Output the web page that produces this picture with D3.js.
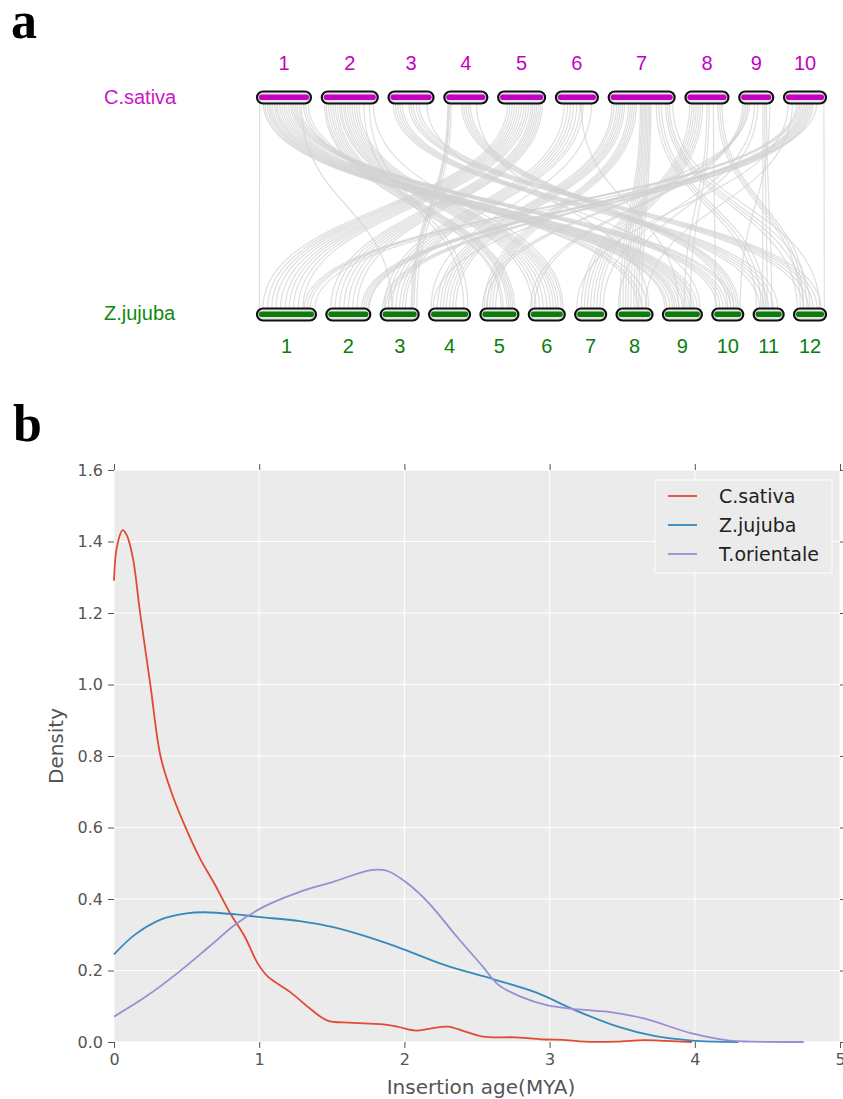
<!DOCTYPE html>
<html>
<head>
<meta charset="utf-8">
<script src="https://cdn.jsdelivr.net/npm/d3@7"></script>
<style>
  body { margin: 0; background: #fff; }
  svg { display: block; }
</style>
</head>
<body>
<svg id="chart" width="843" height="1099"></svg>
<script>
// ---- panel a data ----
const topSpecies = 'C.sativa';
const botSpecies = 'Z.jujuba';
const topChrNames = ['1', '2', '3', '4', '5', '6', '7', '8', '9', '10'];
const topChrLengths = [54, 56, 45, 43, 47, 42, 66, 43, 34, 42];
const botChrNames = ['1', '2', '3', '4', '5', '6', '7', '8', '9', '10', '11', '12'];
const botChrLengths = [59, 44, 38, 41, 38, 36, 31, 36, 39, 31, 30, 32];

// syntenic links: [top chr, position on top chr (0-1), bottom chr, position on bottom chr (0-1)]
const links = [
  [1, 0.05, 1, 0.04],
  [1, 0.12, 9, 0.05], [1, 0.15, 9, 0.10], [1, 0.19, 9, 0.18], [1, 0.22, 9, 0.25], [1, 0.25, 9, 0.3],
  [1, 0.28, 9, 0.35], [1, 0.32, 9, 0.42], [1, 0.35, 9, 0.5], [1, 0.38, 9, 0.55], [1, 0.42, 9, 0.62],
  [1, 0.46, 9, 0.68], [1, 0.5, 9, 0.75], [1, 0.54, 9, 0.8], [1, 0.58, 9, 0.88],
  [1, 0.62, 10, 0.15], [1, 0.65, 10, 0.25], [1, 0.68, 10, 0.35], [1, 0.71, 10, 0.45], [1, 0.74, 10, 0.6],
  [1, 0.78, 10, 0.7], [1, 0.82, 3, 0.3], [1, 0.86, 8, 0.6], [1, 0.9, 8, 0.7], [1, 0.95, 8, 0.85],
  [2, 0.05, 5, 0.55], [2, 0.08, 5, 0.6], [2, 0.12, 5, 0.7], [2, 0.16, 5, 0.75], [2, 0.2, 5, 0.8],
  [2, 0.24, 5, 0.85], [2, 0.28, 5, 0.9], [2, 0.32, 6, 0.1], [2, 0.35, 6, 0.2], [2, 0.39, 6, 0.3],
  [2, 0.42, 6, 0.4], [2, 0.46, 6, 0.5], [2, 0.5, 6, 0.6], [2, 0.54, 6, 0.68], [2, 0.58, 6, 0.75],
  [2, 0.62, 6, 0.82], [2, 0.66, 6, 0.9], [2, 0.75, 4, 0.85], [2, 0.85, 4, 0.95], [2, 0.92, 6, 0.95],
  [3, 0.1, 11, 0.2], [3, 0.15, 11, 0.35], [3, 0.2, 11, 0.5], [3, 0.25, 11, 0.65], [3, 0.3, 11, 0.8],
  [3, 0.45, 12, 0.3], [3, 0.5, 12, 0.45], [3, 0.55, 12, 0.6], [3, 0.62, 12, 0.72], [3, 0.68, 12, 0.85],
  [3, 0.85, 9, 0.95],
  [4, 0.08, 3, 0.8], [4, 0.1, 3, 0.84], [4, 0.12, 3, 0.88], [4, 0.16, 3, 0.95], [4, 0.4, 10, 0.5],
  [4, 0.45, 10, 0.6], [4, 0.5, 10, 0.7], [4, 0.55, 10, 0.78], [4, 0.6, 10, 0.85], [4, 0.75, 8, 0.9],
  [5, 0.2, 1, 0.1], [5, 0.25, 1, 0.18], [5, 0.3, 1, 0.25], [5, 0.35, 1, 0.32], [5, 0.4, 1, 0.4],
  [5, 0.45, 1, 0.48], [5, 0.5, 1, 0.55], [5, 0.55, 1, 0.62], [5, 0.6, 1, 0.7], [5, 0.65, 1, 0.78],
  [5, 0.7, 2, 0.1], [5, 0.74, 2, 0.2], [5, 0.78, 2, 0.3], [5, 0.82, 2, 0.4], [5, 0.86, 2, 0.5],
  [5, 0.9, 2, 0.6], [5, 0.94, 2, 0.7],
  [6, 0.2, 3, 0.1], [6, 0.28, 3, 0.2], [6, 0.35, 3, 0.3], [6, 0.42, 3, 0.4], [6, 0.5, 3, 0.5],
  [6, 0.58, 3, 0.58], [6, 0.65, 3, 0.65], [6, 0.6, 9, 0.4], [6, 0.85, 4, 0.05],
  [7, 0.05, 4, 0.2], [7, 0.08, 4, 0.28], [7, 0.12, 4, 0.35], [7, 0.15, 4, 0.42], [7, 0.18, 4, 0.5],
  [7, 0.21, 4, 0.58], [7, 0.24, 4, 0.65], [7, 0.3, 5, 0.1], [7, 0.33, 5, 0.18], [7, 0.36, 5, 0.25],
  [7, 0.39, 5, 0.32], [7, 0.42, 5, 0.4],
  [7, 0.48, 8, 0.1], [7, 0.5, 8, 0.18], [7, 0.52, 8, 0.25], [7, 0.54, 8, 0.32], [7, 0.56, 8, 0.4],
  [7, 0.58, 8, 0.48], [7, 0.6, 8, 0.55], [7, 0.62, 8, 0.62], [7, 0.64, 8, 0.7],
  [7, 0.72, 11, 0.1], [7, 0.76, 11, 0.25], [7, 0.8, 11, 0.4], [7, 0.86, 12, 0.1], [7, 0.89, 12, 0.3],
  [7, 0.92, 12, 0.5], [7, 0.97, 12, 0.8],
  [8, 0.1, 7, 0.2], [8, 0.15, 7, 0.3], [8, 0.2, 7, 0.4], [8, 0.25, 7, 0.5], [8, 0.3, 7, 0.6],
  [8, 0.35, 7, 0.7], [8, 0.4, 7, 0.8], [8, 0.5, 9, 0.55], [8, 0.55, 9, 0.7], [8, 0.65, 10, 0.1],
  [8, 0.75, 12, 0.2], [8, 0.8, 12, 0.3], [8, 0.85, 12, 0.4],
  [9, 0.1, 6, 0.05], [9, 0.15, 6, 0.15], [9, 0.2, 5, 0.05], [9, 0.25, 5, 0.15], [9, 0.3, 4, 0.1],
  [9, 0.45, 7, 0.9], [9, 0.55, 8, 0.05], [9, 0.7, 11, 0.3], [9, 0.75, 11, 0.45], [9, 0.8, 11, 0.6],
  [9, 0.9, 10, 0.9],
  [10, 0.1, 7, 0.05], [10, 0.2, 8, 0.8], [10, 0.3, 1, 0.8], [10, 0.34, 1, 0.85], [10, 0.38, 1, 0.9],
  [10, 0.42, 2, 0.8], [10, 0.46, 2, 0.85], [10, 0.5, 2, 0.9], [10, 0.54, 2, 0.95], [10, 0.58, 2, 0.98],
  [10, 0.62, 3, 0.05], [10, 0.66, 3, 0.12], [10, 0.7, 3, 0.2], [10, 0.78, 1, 0.98], [10, 0.95, 12, 0.95]
];

// ---- panel b data ----
const seriesNames = ['C.sativa', 'Z.jujuba', 'T.orientale'];
const seriesColors = ['#E24A33', '#348ABD', '#988ED5'];
const xTicks = [0, 1, 2, 3, 4, 5];
const yTicks = [0, 0.2, 0.4, 0.6, 0.8, 1.0, 1.2, 1.4, 1.6];

const sativaAge = [0, 0.02, 0.06, 0.09, 0.13, 0.18, 0.25, 0.32, 0.39, 0.48, 0.59, 0.69, 0.8, 0.9, 0.99,
  1.06, 1.21, 1.36, 1.47, 1.62, 1.84, 1.95, 2.08, 2.17, 2.3, 2.42, 2.54, 2.77, 2.98, 3.09, 3.24, 3.46,
  3.65, 3.8, 3.98];
const sativaDensity = [1.29, 1.385, 1.432, 1.416, 1.354, 1.2, 1.0, 0.8, 0.705, 0.612, 0.515, 0.444, 0.36,
  0.295, 0.22, 0.183, 0.141, 0.09, 0.06, 0.054, 0.05, 0.043, 0.032, 0.037, 0.043, 0.029, 0.015, 0.013,
  0.007, 0.006, 0.001, 0.001, 0.005, 0.003, 0.0];
const jujubaAge = [0, 0.14, 0.325, 0.5, 0.62, 0.84, 0.99, 1.28, 1.51, 1.8, 1.99, 2.28, 2.61, 2.91, 3.17,
  3.47, 3.72, 3.98, 4.13, 4.3];
const jujubaDensity = [0.245, 0.299, 0.343, 0.36, 0.363, 0.357, 0.35, 0.338, 0.321, 0.287, 0.26, 0.215,
  0.176, 0.138, 0.09, 0.043, 0.017, 0.004, 0.001, 0.0];
const orientaleAge = [0, 0.22, 0.435, 0.657, 0.84, 1.03, 1.28, 1.51, 1.77, 1.88, 2.02, 2.17, 2.36, 2.54,
  2.65, 2.8, 2.98, 3.2, 3.43, 3.65, 3.98, 4.24, 4.39, 4.75];
const orientaleDensity = [0.071, 0.127, 0.192, 0.267, 0.33, 0.378, 0.42, 0.448, 0.481, 0.479, 0.444,
  0.388, 0.295, 0.211, 0.159, 0.127, 0.103, 0.091, 0.083, 0.066, 0.024, 0.004, 0.001, 0.0];

const svg = d3.select('#chart');

// ================= panel a =================
const magenta = '#c400c4';
const green = '#0a7d0a';
const chrLeft = 257;
const chrRight = 826;
const chrH = 12;
const topY = 91.5;
const botY = 308.5;

function layoutChroms(lengths, gap) {
  const total = d3.sum(lengths);
  const k = (chrRight - chrLeft - gap * (lengths.length - 1)) / total;
  let pos = chrLeft;
  return lengths.map((len, i) => {
    const s = d3.scaleLinear().domain([0, 1]).range([pos, pos + len * k]);
    pos += len * k + gap;
    return { i, scale: s };
  });
}

const topChroms = layoutChroms(topChrLengths, 10.8);
const botChroms = layoutChroms(botChrLengths, 10.4);

const panelA = svg.append('g').attr('class', 'panelA');

const link = d3.linkVertical()
  .x((d) => d[0])
  .y((d) => d[1]);

panelA.append('g')
  .attr('class', 'links')
  .selectAll('path')
  .data(links)
  .enter()
  .append('path')
  .attr('d', (d) => link({
    source: [topChroms[d[0] - 1].scale(d[1]), topY + chrH],
    target: [botChroms[d[2] - 1].scale(d[3]), botY]
  }))
  .attr('fill', 'none')
  .attr('stroke', '#d2d2d2')
  .attr('stroke-opacity', 0.7)
  .attr('stroke-width', 1.2);

function drawChroms(chroms, y, color, names, labelY) {
  const g = panelA.append('g');
  const c = g.selectAll('g.chr').data(chroms).enter().append('g').attr('class', 'chr');
  c.append('rect')
    .attr('x', (d) => d.scale(0))
    .attr('y', y)
    .attr('width', (d) => d.scale(1) - d.scale(0))
    .attr('height', chrH)
    .attr('rx', chrH / 2)
    .attr('fill', '#e4e4e4')
    .attr('stroke', '#111')
    .attr('stroke-width', 2.2);
  c.append('rect')
    .attr('x', (d) => d.scale(0) + 2)
    .attr('y', y + 3)
    .attr('width', (d) => d.scale(1) - d.scale(0) - 4)
    .attr('height', 5.5)
    .attr('rx', 2.5)
    .attr('fill', color);
  c.append('text')
    .attr('x', (d) => (d.scale(0) + d.scale(1)) / 2)
    .attr('y', labelY)
    .attr('text-anchor', 'middle')
    .attr('font-family', 'Liberation Sans, Arial, sans-serif')
    .attr('font-size', 20)
    .attr('fill', color)
    .text((d) => names[d.i]);
}

drawChroms(topChroms, topY, magenta, topChrNames, 70);
drawChroms(botChroms, botY, green, botChrNames, 353);

panelA.append('text')
  .attr('x', 104).attr('y', 104)
  .attr('font-family', 'Liberation Sans, Arial, sans-serif')
  .attr('font-size', 20)
  .attr('fill', '#cc14cc')
  .text(topSpecies);

panelA.append('text')
  .attr('x', 104).attr('y', 320)
  .attr('font-family', 'Liberation Sans, Arial, sans-serif')
  .attr('font-size', 20)
  .attr('fill', '#118811')
  .text(botSpecies);

// panel letters
svg.append('text')
  .attr('x', 11).attr('y', 38)
  .attr('font-family', 'Liberation Serif, Times New Roman, serif')
  .attr('font-weight', 'bold')
  .attr('font-size', 52)
  .text('a');

svg.append('text')
  .attr('x', 13).attr('y', 441)
  .attr('font-family', 'Liberation Serif, Times New Roman, serif')
  .attr('font-weight', 'bold')
  .attr('font-size', 52)
  .text('b');

// ================= panel b =================
const plot = { left: 114, right: 840, top: 470, bottom: 1042 };
const x = d3.scaleLinear().domain([0, 5]).range([plot.left, plot.right]);
const y = d3.scaleLinear().domain([0, 1.6]).range([plot.bottom, plot.top]);

const panelB = svg.append('g').attr('class', 'panelB');
const tickColor = '#555';
const font = 'DejaVu Sans, Verdana, sans-serif';

panelB.append('rect')
  .attr('x', plot.left)
  .attr('y', plot.top)
  .attr('width', plot.right - plot.left)
  .attr('height', plot.bottom - plot.top)
  .attr('fill', '#ebebeb');

// grid
panelB.append('g')
  .selectAll('line')
  .data(xTicks)
  .enter()
  .append('line')
  .attr('x1', (d) => x(d)).attr('x2', (d) => x(d))
  .attr('y1', plot.top).attr('y2', plot.bottom)
  .attr('stroke', '#fff').attr('stroke-width', 1);

panelB.append('g')
  .selectAll('line')
  .data(yTicks)
  .enter()
  .append('line')
  .attr('x1', plot.left).attr('x2', plot.right)
  .attr('y1', (d) => y(d)).attr('y2', (d) => y(d))
  .attr('stroke', '#fff').attr('stroke-width', 1);

// axes
function styleAxis(g) {
  g.select('.domain').remove();
  g.selectAll('.tick line').attr('stroke', tickColor);
  g.selectAll('.tick text')
    .attr('fill', tickColor)
    .attr('font-family', font)
    .attr('font-size', 16);
}

panelB.append('g')
  .attr('transform', `translate(0,${plot.bottom})`)
  .call(d3.axisBottom(x).tickValues(xTicks).tickFormat(d3.format('d')).tickSize(6).tickPadding(6))
  .call(styleAxis);

panelB.append('g')
  .attr('transform', `translate(0,${plot.top})`)
  .call(d3.axisTop(x).tickValues(xTicks).tickFormat('').tickSize(6))
  .call(styleAxis);

panelB.append('g')
  .attr('transform', `translate(${plot.left},0)`)
  .call(d3.axisLeft(y).tickValues(yTicks).tickFormat(d3.format('.1f')).tickSize(6).tickPadding(5))
  .call(styleAxis);

panelB.append('g')
  .attr('transform', `translate(${plot.right},0)`)
  .call(d3.axisRight(y).tickValues(yTicks).tickFormat('').tickSize(6))
  .call(styleAxis);

// axis titles
panelB.append('text')
  .attr('x', (plot.left + plot.right) / 2 + 4)
  .attr('y', 1094)
  .attr('text-anchor', 'middle')
  .attr('font-family', font)
  .attr('font-size', 20)
  .attr('fill', '#555')
  .text('Insertion age(MYA)');

panelB.append('text')
  .attr('transform', `translate(63,${(plot.top + plot.bottom) / 2 - 10}) rotate(-90)`)
  .attr('text-anchor', 'middle')
  .attr('font-family', font)
  .attr('font-size', 20)
  .attr('fill', '#555')
  .text('Density');

// curves
const series = [
  { name: seriesNames[0], color: seriesColors[0], xs: sativaAge, ys: sativaDensity },
  { name: seriesNames[1], color: seriesColors[1], xs: jujubaAge, ys: jujubaDensity },
  { name: seriesNames[2], color: seriesColors[2], xs: orientaleAge, ys: orientaleDensity }
];

const line = d3.line()
  .x((d) => x(d[0]))
  .y((d) => y(Math.max(0, d[1])))
  .curve(d3.curveCatmullRom.alpha(0.5));

panelB.append('g')
  .selectAll('path')
  .data(series)
  .enter()
  .append('path')
  .attr('d', (s) => line(s.xs.map((v, i) => [v, s.ys[i]])))
  .attr('fill', 'none')
  .attr('stroke', (s) => s.color)
  .attr('stroke-width', 1.8);

// legend
const legend = panelB.append('g').attr('transform', 'translate(655,480)');
legend.append('rect')
  .attr('width', 177)
  .attr('height', 93)
  .attr('fill', '#ebebeb')
  .attr('stroke', '#f7f7f7')
  .attr('stroke-width', 1.5);

const item = legend.selectAll('g.item')
  .data(series)
  .enter()
  .append('g')
  .attr('class', 'item')
  .attr('transform', (d, i) => `translate(0,${16 + i * 29})`);

item.append('line')
  .attr('x1', 13).attr('x2', 42)
  .attr('stroke', (d) => d.color)
  .attr('stroke-width', 1.8);

item.append('text')
  .attr('x', 64)
  .attr('y', 7)
  .attr('font-family', font)
  .attr('font-size', 19)
  .attr('fill', '#222')
  .text((d) => d.name);
</script>
</body>
</html>
